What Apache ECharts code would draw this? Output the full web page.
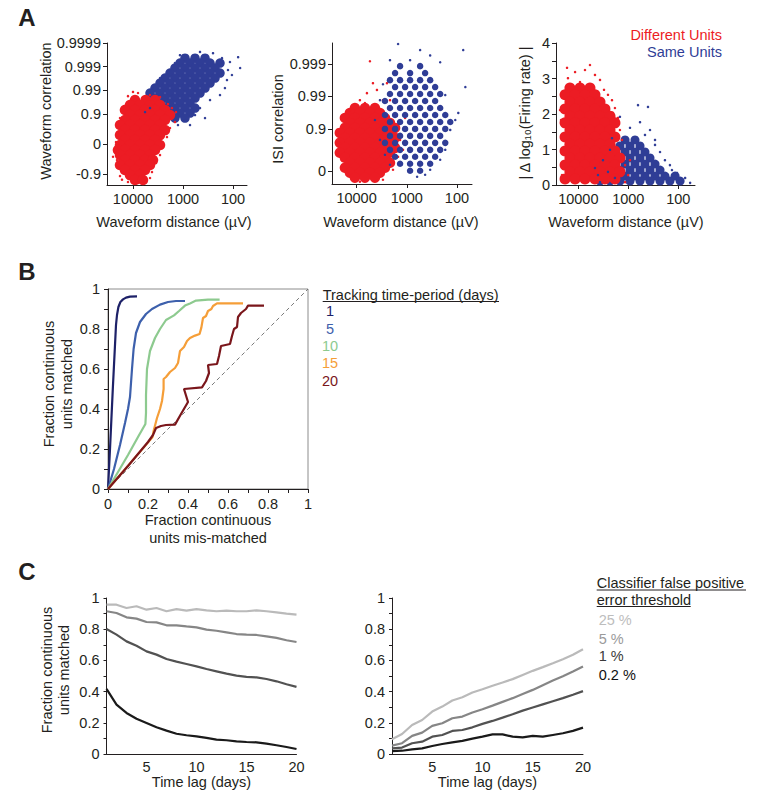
<!DOCTYPE html>
<html>
<head>
<meta charset="utf-8">
<script src="https://cdn.jsdelivr.net/npm/echarts@6/dist/echarts.min.js"></script>
<style>html,body{margin:0;padding:0;background:#fff}#chart{width:760px;height:800px}</style>
</head>
<body>
<div id="chart"></div>
<script>
// ---------------- DATA ----------------
// Panel A: tick labels
const waveformDistTicks = [100, 1000, 10000];           // µV (log axis, reversed)
const waveformCorrTicks = [-0.9, 0, 0.9, 0.99, 0.999, 0.9999]; // Fisher-z spaced
const isiCorrTicks = [0, 0.9, 0.99, 0.999];
const rateTicks = [0, 1, 2, 3, 4];
const unitGroups = ['Different Units', 'Same Units'];

// A1: [waveform distance µV, waveform correlation]
const a1DifferentDense = [
 [9120,0.9737],[5600,0.974],[3630,0.9735],
 [11500,0.9575],[7240,0.958],[4570,0.957],[2880,0.9575],
 [14500,0.9315],[9120,0.932],[5750,0.931],[3630,0.9315],[2290,0.932],
 [11500,0.8904],[7240,0.89],[4570,0.891],[2880,0.8904],[1820,0.89],
 [14500,0.8275],[9120,0.828],[5750,0.827],[3630,0.8275],[2290,0.827],
 [18200,0.733],[11500,0.733],[7240,0.734],[4570,0.733],[2880,0.732],
 [14500,0.598],[9120,0.598],[5750,0.6],[3630,0.598],[2290,0.596],
 [18200,0.418],[11500,0.418],[7240,0.42],[4570,0.418],[2880,0.416],
 [14500,0.198],[9120,0.198],[5750,0.2],[3630,0.198],
 [18200,-0.044],[11500,-0.044],[7240,-0.04],[4570,-0.044],[2880,-0.044],
 [20000,-0.281],[14500,-0.281],[9120,-0.28],[5750,-0.281],[3630,-0.281],
 [18200,-0.489],[11500,-0.489],[7240,-0.49],[4570,-0.489],
 [14500,-0.651],[9120,-0.651],[5750,-0.65],[3980,-0.651],
 [18200,-0.771],[11500,-0.771],[7240,-0.77],[4570,-0.771],
 [14500,-0.853],[9120,-0.853],[5750,-0.853],
 [11500,-0.908],[7240,-0.908],
 [9120,-0.942],[6310,-0.942]
];
const a1DifferentSparse = [
 [22900,-0.369],[20900,-0.651],[21900,0.102],[20000,0.531],[18200,0.856],[15100,0.953],
 [12600,0.982],[7940,0.9867],[4570,0.9837],[2880,0.9802],[2000,0.9613],[1380,0.917],
 [1450,0.7938],[1820,0.658],[2090,0.334],[2630,-0.189],[2880,-0.489],[3470,-0.728],
 [4170,-0.878],[4570,-0.93],[5750,-0.952],[7940,-0.956],[12600,-0.952],[18200,-0.916],
 [20000,-0.824],[10000,0.988],[1660,0.9433],[25100,-0.55],[16600,-0.94]
];
const a1SameDense = [
 [912,0.99956],[575,0.99956],[363,0.99956],
 [1150,0.99929],[724,0.99929],[457,0.99929],[288,0.99929],[182,0.99929],
 [1450,0.99884],[912,0.99884],[575,0.99884],[363,0.99884],[229,0.99884],
 [1820,0.9981],[1150,0.9981],[724,0.9981],[457,0.9981],[288,0.9981],[182,0.9981],
 [2290,0.99691],[1450,0.99691],[912,0.99691],[575,0.99691],[363,0.99691],[229,0.99691],
 [2880,0.99496],[1820,0.99496],[1150,0.99496],[724,0.99496],[457,0.99496],[288,0.99496],
 [3630,0.9918],[2290,0.9918],[1450,0.9918],[912,0.9918],[575,0.9918],[363,0.9918],
 [4570,0.98667],[2880,0.98667],[1820,0.98667],[1150,0.98667],[724,0.98667],[457,0.98667],
 [3630,0.9783],[2290,0.9783],[1450,0.9783],[912,0.9783],[575,0.9783],
 [2880,0.96485],[1820,0.96485],[1150,0.96485],[724,0.96485],
 [2290,0.9433],[1450,0.9433],[912,0.9433],[575,0.9433],
 [1820,0.909],[1150,0.909],[724,0.909],
 [1450,0.8558],[912,0.8558]
];
const a1SameSparse = [
 [912,0.99967],[457,0.99976],[251,0.99973],[166,0.99956],[115,0.99936],[79,0.9996],
 [72,0.99884],[132,0.99624],[145,0.9918],[182,0.98374],[288,0.97365],[457,0.9433],
 [575,0.8904],[912,0.8275],[1260,0.733],[4570,0.9433],[5750,0.917],[1450,0.99929],
 [1820,0.99859],[2880,0.99691],[4170,0.9918],[1150,0.99967],[105,0.9977],[363,0.8558],
 [724,0.733],[126,0.99859]
];

// A2: [waveform distance µV, ISI correlation]
const a2DifferentDense = [
 [10800,0.9774],[6820,0.9774],[4310,0.9774],
 [13600,0.968],[8590,0.968],[5420,0.968],[3420,0.968],
 [17100,0.9546],[10800,0.9546],[6820,0.9546],[4310,0.9546],[2720,0.9546],
 [13600,0.9359],[8590,0.9359],[5420,0.9359],[3420,0.9359],[2160,0.9359],
 [17100,0.9099],[10800,0.9099],[6820,0.9099],[4310,0.9099],[2720,0.9099],[1710,0.9099],
 [21600,0.8738],[13600,0.8738],[8590,0.8738],[5420,0.8738],[3420,0.8738],[2160,0.8738],
 [17100,0.8249],[10800,0.8249],[6820,0.8249],[4310,0.8249],[2720,0.8249],[1710,0.8249],
 [21600,0.7596],[13600,0.7596],[8590,0.7596],[5420,0.7596],[3420,0.7596],[2160,0.7596],
 [17100,0.6737],[10800,0.6737],[6820,0.6737],[4310,0.6737],[2720,0.6737],[1710,0.6737],
 [21600,0.5652],[13600,0.5652],[8590,0.5652],[5420,0.5652],[3420,0.5652],[2160,0.5652],
 [17100,0.4327],[10800,0.4327],[6820,0.4327],[4310,0.4327],[2720,0.4327],
 [13600,0.2776],[8590,0.2776],[5420,0.2776],[3420,0.2776],[2160,0.2776],
 [17100,0.1076],[10800,0.1076],[6820,0.1076],[4310,0.1076],[2720,0.1076],
 [13600,-0.0689],[8590,-0.0689],[5420,-0.0689],[3420,-0.0689],
 [10800,-0.2413],[6820,-0.2413],[4310,-0.2413]
];
const a2DifferentSparse = [
 [23700,0.515],[18800,0.9157],[13600,0.974],[8590,0.987],[5420,0.99918],[3930,0.9937],
 [4720,0.9961],[2980,0.987],[2160,0.974],[1560,0.9157],[1360,0.8008],[1490,0.4606],
 [1880,0.037],[2980,-0.3077],[8590,-0.3697],[15600,-0.069],[19700,0.143],[22600,0.7596],
 [2480,0.9961],[6220,0.9921],[1190,0.6328],[2160,0.987],[6820,0.984],[1080,0.9546]
];
const a2SameDense = [
 [1360,0.99884],[542,0.99884],
 [1710,0.9981],[859,0.9981],[431,0.9981],
 [2160,0.99686],[1360,0.99686],[859,0.99686],[542,0.99686],[342,0.99686],
 [1710,0.99486],[1080,0.99486],[682,0.99486],[431,0.99486],[272,0.99486],
 [2160,0.99157],[1360,0.99157],[859,0.99157],[542,0.99157],[342,0.99157],[216,0.99157],
 [2720,0.98619],[1710,0.98619],[1080,0.98619],[682,0.98619],[431,0.98619],[272,0.98619],
 [2160,0.9774],[1360,0.9774],[859,0.9774],[542,0.9774],[342,0.9774],[216,0.9774],
 [2720,0.96317],[1710,0.96317],[1080,0.96317],[682,0.96317],[431,0.96317],[272,0.96317],[171,0.96317],
 [2160,0.9401],[1360,0.9401],[859,0.9401],[542,0.9401],[342,0.9401],[216,0.9401],[136,0.9401],
 [2720,0.9035],[1710,0.9035],[1080,0.9035],[682,0.9035],[431,0.9035],[272,0.9035],[171,0.9035],
 [2160,0.8463],[1360,0.8463],[859,0.8463],[542,0.8463],[342,0.8463],[216,0.8463],
 [2720,0.7596],[1710,0.7596],[1080,0.7596],[682,0.7596],[431,0.7596],[272,0.7596],[171,0.7596],
 [2160,0.6328],[1360,0.6328],[859,0.6328],[542,0.6328],[342,0.6328],[216,0.6328],
 [1710,0.4606],[1080,0.4606],[682,0.4606],[431,0.4606],[272,0.4606],
 [1360,0.2449],[859,0.2449],[542,0.2449],[342,0.2449],
 [859,0.0],[542,0.0]
];
const a2SameSparse = [
 [1490,0.99976],[75,0.99963],[542,0.99963],[342,0.99946],[859,0.99924],[216,0.99912],
 [68,0.99486],[94,0.968],[171,0.99095],[2980,0.9958],[3420,0.987],[136,0.8966],
 [171,0.6328],[216,0.373],[622,-0.208],[342,0.037],[3420,0.8008],[108,0.9478],
 [2160,0.99924],[431,-0.139],[4310,0.9478],[2720,0.515],[2160,0.2117]
];

// A3: [waveform distance µV, |Δ log10(firing rate)|]
const a3DifferentDense = [
 [14700,2.73],[9250,2.73],[5840,2.73],
 [18400,2.54],[11600,2.54],[7350,2.54],[4640,2.54],
 [14700,2.34],[9250,2.34],[5840,2.34],[3680,2.34],
 [18400,2.14],[11600,2.14],[7350,2.14],[4640,2.14],[2930,2.14],
 [14700,1.94],[9250,1.94],[5840,1.94],[3680,1.94],[2320,1.94],
 [18400,1.75],[11600,1.75],[7350,1.75],[4640,1.75],[2930,1.75],[1850,1.75],
 [14700,1.55],[9250,1.55],[5840,1.55],[3680,1.55],[2320,1.55],
 [18400,1.35],[11600,1.35],[7350,1.35],[4640,1.35],[2930,1.35],[1850,1.35],
 [14700,1.15],[9250,1.15],[5840,1.15],[3680,1.15],[2320,1.15],
 [18400,0.96],[11600,0.96],[7350,0.96],[4640,0.96],[2930,0.96],[1850,0.96],
 [14700,0.76],[9250,0.76],[5840,0.76],[3680,0.76],[2320,0.76],[1470,0.76],
 [18400,0.56],[11600,0.56],[7350,0.56],[4640,0.56],[2930,0.56],[1850,0.56],
 [14700,0.37],[9250,0.37],[5840,0.37],[3680,0.37],[2320,0.37],[1470,0.37],
 [18400,0.17],[11600,0.17],[7350,0.17],[4640,0.17],[2930,0.17],[1850,0.17]
];
const a3DifferentSparse = [
 [21200,2.54],[22200,1.83],[21200,0.99],[21200,0.28],[16100,3.01],[11600,3.18],
 [7350,3.24],[4640,3.1],[3680,2.96],[2550,2.54],[1850,2.17],[1470,1.55],
 [1340,1.27],[1160,0.56],[1010,0.28],[1160,0.08],[23200,2.11],[5840,3.38],
 [3060,2.68],[1610,1.89],[9250,2.9],[16800,3.3],[925,0.7],[2120,2.39]
];
const a3SameDense = [
 [1160,1.27],[735,1.27],
 [1470,1.1],[925,1.1],[583,1.1],
 [1850,0.93],[1160,0.93],[735,0.93],[464,0.93],
 [2320,0.76],[1470,0.76],[925,0.76],[583,0.76],[368,0.76],
 [2930,0.59],[1850,0.59],[1160,0.59],[735,0.59],[464,0.59],[292,0.59],
 [3680,0.42],[2320,0.42],[1470,0.42],[925,0.42],[583,0.42],[368,0.42],[232,0.42],
 [2930,0.25],[1850,0.25],[1160,0.25],[735,0.25],[464,0.25],[292,0.25],[185,0.25],[116,0.25],
 [3680,0.11],[2320,0.11],[1470,0.11],[925,0.11],[583,0.11],[368,0.11],[232,0.11],[147,0.11],[92,0.11]
];
const a3SameSparse = [
 [640,2.25],[404,2.2],[1470,1.92],[925,1.61],[464,1.41],[292,1.13],[232,0.93],
 [185,0.7],[134,0.42],[106,0.34],[58,0.06],[92,0.14],[4040,0.28],[4640,0.48],
 [3210,0.7],[2320,0.99],[368,1.55],[583,1.77],[147,0.56],[73,0.2],[2120,1.32],
 [292,1.27],[3680,0.08],[2550,0.37],[1850,0.2]
];

// Panel B: [fraction mis-matched, fraction matched]
const trackingPeriods = ['1', '5', '10', '15', '20'];
const rocDay1 = [[0,0],[0.004,0.08],[0.01,0.2],[0.017,0.35],[0.024,0.5],[0.03,0.62],[0.035,0.72],[0.04,0.82],[0.045,0.87],[0.052,0.91],[0.062,0.935],[0.075,0.948],[0.09,0.957],[0.11,0.962],[0.145,0.963]];
const rocDay5 = [[0,0],[0.03,0.1],[0.06,0.22],[0.085,0.33],[0.1,0.4],[0.11,0.46],[0.115,0.53],[0.12,0.6],[0.128,0.7],[0.14,0.78],[0.16,0.835],[0.19,0.875],[0.22,0.9],[0.26,0.922],[0.3,0.935],[0.34,0.94],[0.385,0.94]];
const rocDay10 = [[0,0],[0.05,0.085],[0.1,0.17],[0.15,0.26],[0.187,0.325],[0.19,0.38],[0.19,0.47],[0.195,0.6],[0.21,0.69],[0.235,0.755],[0.26,0.8],[0.29,0.845],[0.33,0.868],[0.355,0.89],[0.385,0.917],[0.41,0.928],[0.44,0.942],[0.5,0.947],[0.558,0.947]];
const rocDay15 = [[0,0],[0.222,0.258],[0.228,0.29],[0.245,0.355],[0.26,0.4],[0.27,0.44],[0.278,0.5],[0.278,0.55],[0.29,0.56],[0.31,0.585],[0.335,0.605],[0.35,0.63],[0.36,0.69],[0.38,0.71],[0.395,0.74],[0.41,0.755],[0.435,0.767],[0.458,0.775],[0.467,0.808],[0.475,0.855],[0.49,0.865],[0.5,0.89],[0.517,0.9],[0.525,0.915],[0.545,0.928],[0.6,0.928],[0.675,0.928]];
const rocDay20 = [[0,0],[0.1,0.115],[0.2,0.235],[0.225,0.27],[0.24,0.305],[0.265,0.315],[0.29,0.32],[0.335,0.322],[0.365,0.375],[0.4,0.435],[0.38,0.5],[0.47,0.508],[0.49,0.54],[0.505,0.58],[0.5,0.62],[0.545,0.625],[0.555,0.665],[0.565,0.715],[0.61,0.725],[0.62,0.765],[0.63,0.8],[0.645,0.81],[0.65,0.86],[0.665,0.88],[0.69,0.9],[0.7,0.917],[0.78,0.917]];
const chanceLine = [[0,0],[1,1]];
const fractionTicks = [0, 0.2, 0.4, 0.6, 0.8, 1];
const fractionMinorTicks = [0, 0.1, 0.2, 0.3, 0.4, 0.5, 0.6, 0.7, 0.8, 0.9, 1];

// Panel C
const timeLagDays = [1,2,3,4,5,6,7,8,9,10,11,12,13,14,15,16,17,18,19,20];
const timeLagTicks = [5, 10, 15, 20];
const fpThresholds = ['25 %', '5 %', '1 %', '0.2 %'];
const matchedFP25 = [0.957,0.957,0.936,0.947,0.925,0.936,0.915,0.929,0.919,0.929,0.921,0.915,0.919,0.915,0.915,0.921,0.915,0.908,0.9,0.893];
const matchedFP5 = [0.915,0.904,0.876,0.868,0.846,0.844,0.825,0.825,0.818,0.812,0.797,0.79,0.78,0.769,0.765,0.763,0.754,0.744,0.729,0.718];
const matchedFP1 = [0.801,0.765,0.722,0.694,0.658,0.637,0.609,0.592,0.577,0.562,0.545,0.53,0.515,0.502,0.494,0.491,0.481,0.466,0.447,0.43];
const matchedFP02 = [0.417,0.316,0.263,0.226,0.199,0.171,0.15,0.13,0.12,0.113,0.103,0.092,0.088,0.081,0.077,0.075,0.066,0.056,0.045,0.032];
const mismatchedFP25 = [0.094,0.128,0.186,0.218,0.272,0.304,0.343,0.364,0.394,0.415,0.437,0.458,0.48,0.507,0.533,0.557,0.582,0.608,0.636,0.672];
const mismatchedFP5 = [0.054,0.069,0.116,0.137,0.18,0.197,0.229,0.24,0.266,0.287,0.31,0.334,0.358,0.385,0.411,0.441,0.471,0.499,0.529,0.561];
const mismatchedFP1 = [0.036,0.041,0.069,0.079,0.111,0.122,0.148,0.154,0.171,0.193,0.212,0.233,0.255,0.278,0.298,0.318,0.338,0.358,0.38,0.403];
const mismatchedFP02 = [0.019,0.021,0.03,0.036,0.051,0.064,0.075,0.084,0.099,0.111,0.126,0.126,0.111,0.107,0.116,0.111,0.122,0.133,0.148,0.169];

// ---------------- STYLE ----------------
const FONT = '"Liberation Sans", Arial, Helvetica, sans-serif';
const INK = '#231f20';
const RED = '#ec1c24';
const BLUE = '#2f3d96';
const trackColors = ['#1d2168', '#3d60ac', '#8dca8f', '#f59e38', '#7a161b'];
const fpLineColors = ['#bababa', '#868686', '#525252', '#1a1a1a'];
const fpTextColors = ['#bdbdbd', '#9a9a9a', '#3a3a3a', '#111111'];
const LABEL = { fontFamily: FONT, fontSize: 14.5, color: INK };

const toCorr = pts => pts.map(p => [Math.log10(p[0]), Math.atanh(p[1])]);
const toRate = pts => pts.map(p => [Math.log10(p[0]), p[1]]);
const pairDays = ys => timeLagDays.map((d, i) => [d, ys[i]]);
const fmtFrac = v => String(Math.round(v * 10) / 10);

function distAxis(gi, min, max) {
  const t = waveformDistTicks.map(v => Math.log10(v));
  return { type: 'value', gridIndex: gi, min, max, inverse: true,
    axisLine: { show: true, onZero: false, lineStyle: { color: INK, width: 1 } },
    axisTick: { show: true, length: 4, customValues: t, lineStyle: { color: INK } },
    axisLabel: Object.assign({ show: true, customValues: t, margin: 6,
      formatter: v => String(Math.round(Math.pow(10, v))) }, LABEL),
    splitLine: { show: false } };
}
function corrAxis(gi, ticks, min, max) {
  const t = ticks.map(v => Math.atanh(v));
  return { type: 'value', gridIndex: gi, min, max,
    axisLine: { show: true, onZero: false, lineStyle: { color: INK, width: 1 } },
    axisTick: { show: true, length: 4, customValues: t, lineStyle: { color: INK } },
    axisLabel: Object.assign({ show: true, customValues: t, margin: 6,
      formatter: v => { let best = 0; t.forEach((x, i) => { if (Math.abs(x - v) < Math.abs(t[best] - v)) best = i; }); return String(ticks[best]); } }, LABEL),
    splitLine: { show: false } };
}
function linAxis(gi, min, max, labels, ticks, fmt, margin, tickLen) {
  return { type: 'value', gridIndex: gi, min, max,
    axisLine: { show: true, onZero: false, lineStyle: { color: INK, width: 1 } },
    axisTick: ticks ? { show: true, length: tickLen || 4, customValues: ticks, lineStyle: { color: INK } } : { show: false },
    axisLabel: Object.assign({ show: true, customValues: labels, margin: margin, formatter: fmt }, LABEL),
    splitLine: { show: false } };
}
function scat(xi, data, size, color) {
  return { type: 'scatter', xAxisIndex: xi, yAxisIndex: xi, data, symbol: 'circle', symbolSize: size,
    itemStyle: { color, opacity: 1 }, silent: true, animation: false };
}
function line(xi, data, color, width, dashed) {
  return { type: 'line', xAxisIndex: xi, yAxisIndex: xi, data, showSymbol: false, symbol: 'none',
    lineStyle: { color, width, type: dashed ? [4, 3] : 'solid' }, silent: true, animation: false };
}
function txt(x, y, text, o) {
  o = o || {};
  const al = o.align || 'center';
  return { type: 'text', x, y, rotation: o.rot || 0, silent: true, z: 100,
    style: { text, fill: o.color || INK, fontSize: o.size || 14.5, fontFamily: FONT, fontWeight: o.weight || 'normal',
      align: al, verticalAlign: 'middle', textAlign: al, textVerticalAlign: 'middle', lineHeight: o.lh || 17 } };
}
function uline(x1, x2, y) {
  return { type: 'line', silent: true, z: 100, shape: { x1, y1: y, x2, y2: y }, style: { stroke: INK, lineWidth: 1 } };
}

const R = Math.PI / 2;
const graphics = [
  txt(27, 17, 'A', { size: 24, weight: 'bold' }),
  txt(27, 271, 'B', { size: 24, weight: 'bold' }),
  txt(27, 571, 'C', { size: 24, weight: 'bold' }),
  txt(46, 111, 'Waveform correlation', { rot: R }),
  txt(278, 119, 'ISI correlation', { rot: R }),
  txt(525, 113, '| Δ log₁₀(Firing rate) |', { rot: R }),
  txt(174, 222, 'Waveform distance (µV)'),
  txt(401, 222, 'Waveform distance (µV)'),
  txt(626, 222, 'Waveform distance (µV)'),
  txt(722, 35, unitGroups[0], { align: 'right', color: RED }),
  txt(722, 52, unitGroups[1], { align: 'right', color: BLUE }),
  txt(58, 384, 'Fraction continuous\nunits matched', { rot: R, lh: 17.5 }),
  txt(208, 529, 'Fraction continuous\nunits mis-matched', { lh: 17.5 }),
  txt(322.7, 295, 'Tracking time-period (days)', { align: 'left' }),
  uline(322.7, 499, 301.5),
  txt(55, 670, 'Fraction continuous\nunits matched', { rot: R, lh: 17 }),
  txt(201.5, 782, 'Time lag (days)'),
  txt(487.5, 782, 'Time lag (days)'),
  txt(596.7, 583, 'Classifier false positive', { align: 'left' }),
  uline(596.7, 746, 590),
  txt(596.7, 600, 'error threshold', { align: 'left' }),
  uline(596.7, 690.7, 606.5)
];
const trackY = [311, 329, 346, 363, 381];
trackingPeriods.forEach((p, i) => graphics.push(txt(330, trackY[i], p, { color: trackColors[i] })));
const fpY = [620.3, 638.7, 656.3, 674.7];
fpThresholds.forEach((p, i) => graphics.push(txt(598.7, fpY[i], p, { align: 'left', color: fpTextColors[i] })));

const option = {
  animation: false,
  backgroundColor: '#ffffff',
  textStyle: { fontFamily: FONT },
  grid: [
    { left: 107, top: 43, width: 140, height: 142, outerBoundsMode: 'none' },
    { left: 332, top: 43, width: 140, height: 141, outerBoundsMode: 'none' },
    { left: 556, top: 43, width: 139, height: 142, outerBoundsMode: 'none' },
    { left: 108, top: 289, width: 200, height: 200, show: true, borderColor: '#8c8c8c', borderWidth: 1, backgroundColor: 'transparent', outerBoundsMode: 'none' },
    { left: 106.5, top: 598, width: 190, height: 156, outerBoundsMode: 'none' },
    { left: 392, top: 598, width: 191, height: 156, outerBoundsMode: 'none' }
  ],
  xAxis: [
    distAxis(0, 1.72, 4.52),
    distAxis(1, 1.70, 4.49),
    distAxis(2, 1.666, 4.446),
    linAxis(3, 0, 1, fractionTicks, fractionMinorTicks, fmtFrac, 7, 4),
    linAxis(4, 1, 20, timeLagTicks, null, v => String(v), 5),
    linAxis(5, 1, 20, timeLagTicks, null, v => String(v), 5)
  ],
  yAxis: [
    corrAxis(0, waveformCorrTicks, -2.0, Math.atanh(0.9999)),
    corrAxis(1, isiCorrTicks, -0.47, 4.55),
    linAxis(2, 0, 4, rateTicks, [0, 0.5, 1, 1.5, 2, 2.5, 3, 3.5, 4], v => String(v), 6, 4),
    linAxis(3, 0, 1, fractionTicks, fractionMinorTicks, fmtFrac, 8, 4),
    linAxis(4, 0, 1, fractionTicks, fractionMinorTicks, fmtFrac, 7, 3),
    linAxis(5, 0, 1, fractionTicks, fractionMinorTicks, fmtFrac, 7, 3)
  ],
  series: [
    // A1
    scat(0, toCorr(a1SameDense), 9.5, BLUE),
    scat(0, toCorr(a1DifferentDense), 10.5, RED),
    scat(0, toCorr(a1DifferentSparse), 2.5, RED),
    scat(0, toCorr(a1SameSparse), 2.5, BLUE),
    // A2
    scat(1, toCorr(a2DifferentDense), 10.5, RED),
    scat(1, toCorr(a2DifferentSparse), 2.5, RED),
    scat(1, toCorr(a2SameDense), 6.5, BLUE),
    scat(1, toCorr(a2SameSparse), 2.5, BLUE),
    // A3
    scat(2, toRate(a3SameDense), 9, BLUE),
    scat(2, toRate(a3DifferentDense), 11, RED),
    scat(2, toRate(a3DifferentSparse), 2.5, RED),
    scat(2, toRate(a3SameSparse), 2.5, BLUE),
    // B
    line(3, chanceLine, '#6a6a6a', 0.9, true),
    line(3, rocDay1, trackColors[0], 2.2),
    line(3, rocDay5, trackColors[1], 2.2),
    line(3, rocDay10, trackColors[2], 2.2),
    line(3, rocDay15, trackColors[3], 2.2),
    line(3, rocDay20, trackColors[4], 2.2),
    // C left
    line(4, pairDays(matchedFP25), fpLineColors[0], 2.2),
    line(4, pairDays(matchedFP5), fpLineColors[1], 2.2),
    line(4, pairDays(matchedFP1), fpLineColors[2], 2.2),
    line(4, pairDays(matchedFP02), fpLineColors[3], 2.2),
    // C right
    line(5, pairDays(mismatchedFP25), fpLineColors[0], 2.2),
    line(5, pairDays(mismatchedFP5), fpLineColors[1], 2.2),
    line(5, pairDays(mismatchedFP1), fpLineColors[2], 2.2),
    line(5, pairDays(mismatchedFP02), fpLineColors[3], 2.2)
  ],
  graphic: graphics
};

const chart = echarts.init(document.getElementById('chart'), null, { renderer: 'svg', width: 760, height: 800 });
chart.setOption(option);
</script>
</body>
</html>
